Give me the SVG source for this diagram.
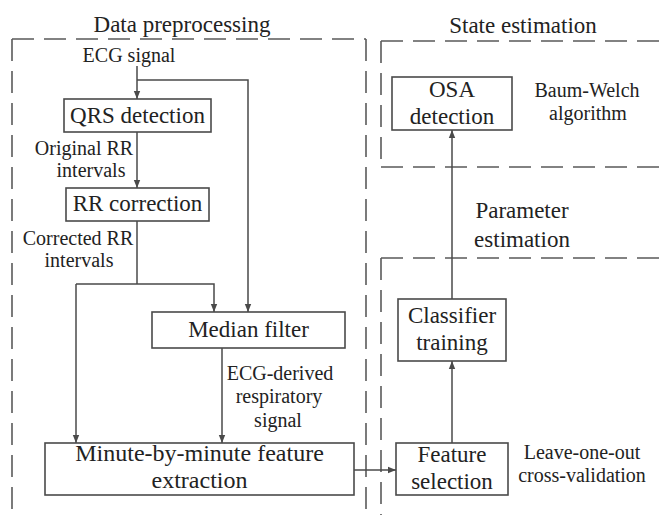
<svg xmlns="http://www.w3.org/2000/svg" width="663" height="515" viewBox="0 0 663 515">
<style>
text{font-family:"Liberation Serif","Times New Roman",serif;fill:#222;text-anchor:middle}
.t{font-size:23px}
.l{font-size:20px}
.b{font-size:23px}
.box{fill:none;stroke:#4a4a4a;stroke-width:1.6}
.dash{fill:none;stroke:#5a5a5a;stroke-width:1.6;stroke-dasharray:22 10}
.c{fill:none;stroke:#4a4a4a;stroke-width:1.5}
</style>
<defs>
<marker id="ah" viewBox="0 0 10 10" refX="10" refY="5" markerWidth="8" markerHeight="8" markerUnits="userSpaceOnUse" orient="auto">
<path d="M0,1 L10,5 L0,9 z" fill="#4a4a4a"/>
</marker>
</defs>
<rect width="663" height="515" fill="#fff"/>

<g id="regions">
<path class="dash" d="M12,39 H366"/>
<path class="dash" d="M12,39 V530"/>
<path class="dash" d="M366,39 V530"/>
<path class="dash" d="M381,41 H670"/>
<path class="dash" d="M381,41 V167"/>
<path class="dash" d="M381,167 H670"/>
<path class="dash" d="M381,258 H670"/>
<path class="dash" d="M381,258 V530"/>
<text class="t" x="182" y="32">Data preprocessing</text>
<text class="t" x="523" y="33">State estimation</text>
<text class="t" x="522" y="218">Parameter</text>
<text class="t" x="522" y="247">estimation</text>
</g>

<g id="connectors">
<path class="c" d="M137,66 V99" marker-end="url(#ah)"/>
<path class="c" d="M137,80 H248 V312" marker-end="url(#ah)"/>
<path class="c" d="M137,132 V188" marker-end="url(#ah)"/>
<path class="c" d="M137,221 V284"/>
<path class="c" d="M76,284 H214 V312" marker-end="url(#ah)"/>
<path class="c" d="M76,284 V443" marker-end="url(#ah)"/>
<path class="c" d="M222,348 V443" marker-end="url(#ah)"/>
<path class="c" d="M354,470 H396" marker-end="url(#ah)"/>
<path class="c" d="M452,443 V361" marker-end="url(#ah)"/>
<path class="c" d="M452,299 V130" marker-end="url(#ah)"/>
<text class="l" x="129" y="62">ECG signal</text>
<text class="l" x="84" y="155">Original RR</text>
<text class="l" x="91" y="177">intervals</text>
<text class="l" x="78" y="245">Corrected RR</text>
<text class="l" x="79" y="267">intervals</text>
<text class="l" x="280" y="380">ECG-derived</text>
<text class="l" x="279" y="403">respiratory</text>
<text class="l" x="278" y="427">signal</text>
<text class="l" x="587" y="97">Baum-Welch</text>
<text class="l" x="588" y="120">algorithm</text>
<text class="l" x="582" y="459">Leave-one-out</text>
<text class="l" x="582" y="482">cross-validation</text>
</g>

<g id="qrs">
<rect class="box" x="64" y="99" width="147" height="33"/>
<text class="b" x="137.5" y="123">QRS detection</text>
</g>
<g id="rr">
<rect class="box" x="66" y="188" width="143" height="33"/>
<text class="b" x="137.5" y="211">RR correction</text>
</g>
<g id="median">
<rect class="box" x="152" y="312" width="193" height="36"/>
<text class="b" x="248.5" y="337">Median filter</text>
</g>
<g id="minute">
<rect class="box" x="45" y="443" width="309" height="52"/>
<text class="b" x="199.5" y="461" style="font-size:24px">Minute-by-minute feature</text>
<text class="b" x="199.5" y="488" style="font-size:24px">extraction</text>
</g>
<g id="osa">
<rect class="box" x="392" y="77" width="120" height="53"/>
<text class="b" x="452" y="97">OSA</text>
<text class="b" x="452" y="124">detection</text>
</g>
<g id="classifier">
<rect class="box" x="398" y="299" width="108" height="62"/>
<text class="b" x="452" y="323">Classifier</text>
<text class="b" x="452" y="350">training</text>
</g>
<g id="feature">
<rect class="box" x="396" y="443" width="112" height="52"/>
<text class="b" x="452" y="462">Feature</text>
<text class="b" x="452" y="489">selection</text>
</g>
</svg>
